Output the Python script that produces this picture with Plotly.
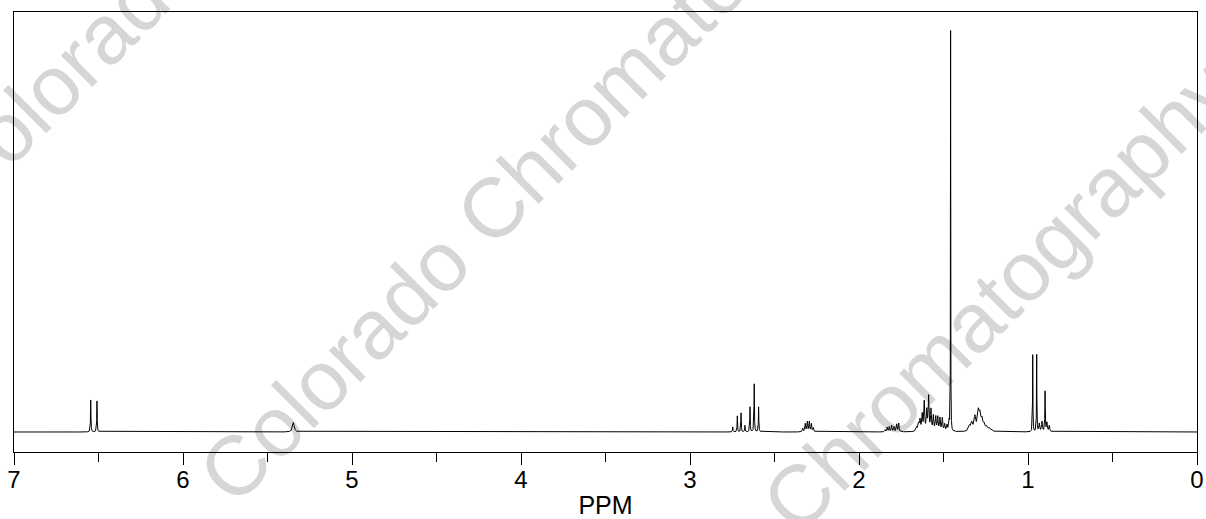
import numpy as np
import plotly.graph_objects as go

# ---- data (ppm, height in plot units, half-width in ppm)
peak_ppm = [
    6.546, 6.509,
    5.347,
    2.747, 2.720, 2.698, 2.675, 2.645, 2.620, 2.594,
    2.333, 2.318, 2.306, 2.294, 2.282, 2.270,
    1.846, 1.833, 1.821, 1.807, 1.793, 1.777, 1.765,
    1.660, 1.648, 1.639, 1.626, 1.614, 1.599, 1.588, 1.574, 1.560, 1.546,
    1.534, 1.521, 1.507, 1.493, 1.479, 1.467,
    1.458,
    1.347, 1.333, 1.314, 1.294, 1.284, 1.272, 1.259, 1.244, 1.229, 1.215,
    0.972, 0.9485, 0.933, 0.917, 0.899, 0.888, 0.874,
]
peak_height = [
    32, 31,
    9.5,
    5, 16, 19, 6.5, 25, 48, 25,
    3.5, 8, 10, 10, 8, 4,
    2, 4.5, 5, 6.5, 5, 7.5, 8.5,
    4, 7, 11, 16, 29, 20, 34, 21, 15, 14,
    14, 13, 13, 7, 6, 10,
    400,
    5, 8, 14, 18, 14, 10, 6, 4, 3, 1.5,
    77, 77, 8, 10, 40, 9, 6,
]
peak_hwhm = [
    0.0015, 0.0015,
    0.006,
    0.0015, 0.0015, 0.0015, 0.0015, 0.0015, 0.0015, 0.0015,
    0.0025, 0.0025, 0.0025, 0.0025, 0.0025, 0.0025,
    0.0025, 0.0025, 0.0025, 0.0025, 0.0025, 0.0025, 0.0025,
    0.004, 0.004, 0.004, 0.003, 0.003, 0.003, 0.003, 0.003, 0.003, 0.003,
    0.003, 0.003, 0.003, 0.003, 0.003, 0.003,
    0.0008,
    0.006, 0.006, 0.006, 0.006, 0.006, 0.006, 0.006, 0.006, 0.006, 0.006,
    0.0012, 0.0012, 0.003, 0.003, 0.0015, 0.003, 0.003,
]

tick_vals = [7, 6, 5, 4, 3, 2, 1, 0]
tick_text = ["7", "6", "5", "4", "3", "2", "1", "0"]
watermark_text = "Colorado Chromatography"

# ---- spectrum from the peak list
grid = np.arange(-0.02, 7.02, 0.0002)
ppm = np.unique(np.concatenate([grid, np.array(peak_ppm)]))
intensity = np.zeros_like(ppm)
for p, h, w in zip(peak_ppm, peak_height, peak_hwhm):
    intensity += h / (1.0 + ((ppm - p) / w) ** 2)

fig = go.Figure()
fig.add_trace(go.Scatter(x=ppm, y=intensity, mode="lines",
                         line=dict(color="#000000", width=1),
                         hoverinfo="skip", showlegend=False))

# ---- layout geometry (pixels)
W, H = 1206, 519
ML, MR, MT, MB = 14, 9, 12, 67
PW, PH = W - ML - MR, H - MT - MB

def to_paper(px, py):
    return (px - ML) / PW, (H - MB - py) / PH

# watermark lines (center in px), drawn below the data
wm_centers = [(290, -163), (558, 132), (864, 419)]
L = 300
d = L / np.sqrt(2)
shapes = []
for cx, cy in wm_centers:
    x0, y0 = to_paper(cx - d, cy + d)
    x1, y1 = to_paper(cx + d, cy - d)
    shapes.append(dict(
        type="line", xref="paper", yref="paper",
        x0=x0, y0=y0, x1=x1, y1=y1,
        line=dict(width=0, color="rgba(0,0,0,0)"),
        layer="below",
        label=dict(text=watermark_text, textposition="middle",
                   yanchor="middle", padding=0,
                   font=dict(size=84, color="#d6d6d6",
                             family="Liberation Sans, Arial, sans-serif")),
    ))

fig.update_layout(
    width=W, height=H, autosize=False,
    margin=dict(l=ML, r=MR, t=MT, b=MB, pad=0, autoexpand=False),
    paper_bgcolor="white", plot_bgcolor="rgba(0,0,0,0)",
    font=dict(family="Liberation Sans, Arial, sans-serif", color="black"),
    shapes=shapes,
    xaxis=dict(
        range=[7, 0], tickvals=tick_vals, ticktext=tick_text,
        automargin=False,
        ticks="outside", ticklen=12, tickwidth=1, tickcolor="black",
        ticklabelstandoff=-6,
        minor=dict(dtick=0.5, tick0=0, ticks="outside", ticklen=9,
                   tickwidth=1, tickcolor="black", showgrid=False),
        showline=True, linecolor="black", linewidth=1, mirror=True,
        showgrid=False, zeroline=False,
        tickfont=dict(size=24, color="black"),
        title=dict(text="PPM", font=dict(size=25, color="black"), standoff=8),
    ),
    yaxis=dict(
        range=[-20, 420], showline=True, linecolor="black", linewidth=1,
        mirror=True, showticklabels=False, ticks="", showgrid=False,
        zeroline=False, automargin=False,
    ),
)

fig.write_html("out.html")
